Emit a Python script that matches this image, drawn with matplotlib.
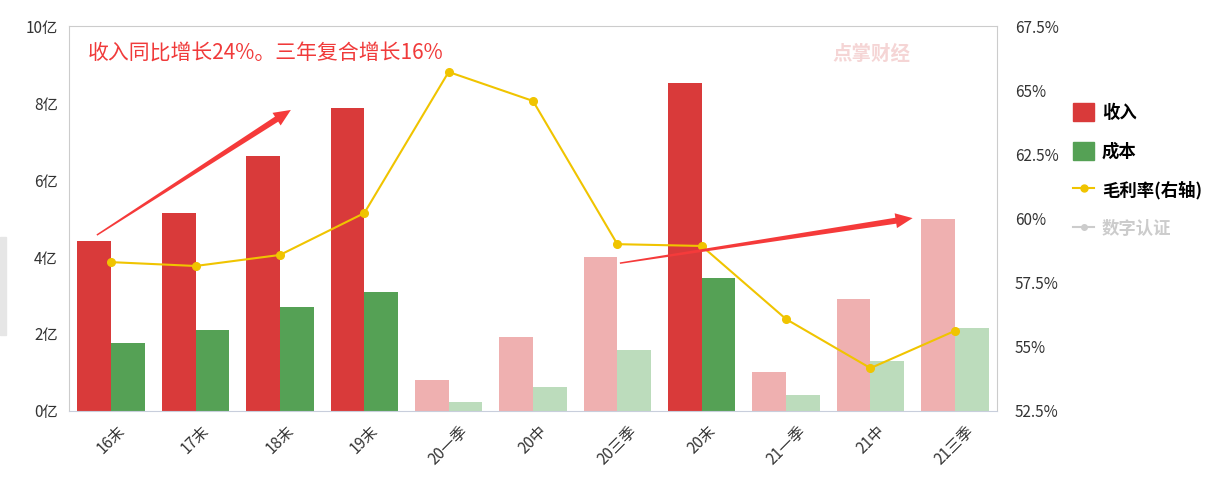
import matplotlib
matplotlib.use('Agg')
import matplotlib.pyplot as plt
import numpy as np
from matplotlib.patches import Patch, Polygon
from matplotlib.lines import Line2D
from matplotlib.transforms import IdentityTransform

plt.rcParams['font.family'] = ['Noto Sans CJK SC', 'DejaVu Sans']

categories = ['16末', '17末', '18末', '19末', '20一季', '20中', '20三季', '20末', '21一季', '21中', '21三季']
revenue = [4.42, 5.14, 6.62, 7.87, 0.81, 1.92, 4.00, 8.52, 1.01, 2.91, 4.99]
cost = [1.77, 2.10, 2.70, 3.09, 0.23, 0.62, 1.58, 3.45, 0.42, 1.30, 2.16]
margin = [58.30, 58.15, 58.58, 60.21, 65.71, 64.58, 59.00, 58.93, 56.08, 54.17, 55.62]
is_annual = [True, True, True, True, False, False, False, True, False, False, False]

left_ticks = [0, 2, 4, 6, 8, 10]
right_ticks = [52.5, 55, 57.5, 60, 62.5, 65, 67.5]

red, red_l = '#D93A3A', '#EFB0B0'
green, green_l = '#55A155', '#BCDCBC'
gold = '#F0C400'

fig = plt.figure(figsize=(12.17, 4.88), dpi=100)
ax = fig.add_axes([0.0567, 0.1578, 0.7625, 0.7889])

x = np.arange(len(categories))
w = 0.40
ax.bar(x - w/2, revenue, w, color=[red if a else red_l for a in is_annual], zorder=2)
ax.bar(x + w/2, cost, w, color=[green if a else green_l for a in is_annual], zorder=2)
ax.set_xlim(-0.5, len(categories) - 0.5)
ax.set_ylim(0, 10)
ax.set_yticks(left_ticks)
ax.set_yticklabels([f'{t}亿' for t in left_ticks], fontsize=11, color='#333333')
ax.set_xticks(x)
ax.set_xticklabels(categories, rotation=45, fontsize=11, color='#333333',
                   ha='center', va='top')
ax.tick_params(length=0, pad=8)
for s in ['top', 'right', 'left']:
    ax.spines[s].set_color('#CCCCCC')
ax.spines['bottom'].set_color('#C8CEDC')

ax2 = ax.twinx()
ax2.plot(x, margin, color=gold, lw=1.5, marker='o', ms=5.5, zorder=3)
ax2.set_ylim(52.5, 67.5)
ax2.set_yticks(right_ticks)
ax2.set_yticklabels([f'{t:g}%' for t in right_ticks], fontsize=11, color='#333333')
ax2.tick_params(length=0, pad=13)
for s in ax2.spines.values():
    s.set_visible(False)

ax.text(0.02, 0.93, '收入同比增长24%。三年复合增长16%', transform=ax.transAxes,
        color='#F03A3A', fontsize=15, va='center', ha='left')
ax.text(0.865, 0.925, '点掌财经', transform=ax.transAxes, color='#F5D5D5',
        fontsize=14, fontweight='bold', va='center', ha='center')


def tapered_arrow(tail, head, tail_w=1.5, body=6.0, head_w=15.0, head_len=17.0):
    # arrow polygon in display pixels: thin tail, widening body, arrow head
    p0 = ax.transData.transform(tail)
    p1 = ax.transData.transform(head)
    d = p1 - p0
    u = d / np.hypot(*d)
    n = np.array([-u[1], u[0]])
    base = p1 - u * head_len
    pts = [p0 + n * tail_w / 2,
           p0 - n * tail_w / 2,
           base - n * body / 2,
           base - n * head_w / 2,
           p1,
           base + n * head_w / 2,
           base + n * body / 2]
    fig.patches.append(Polygon(pts, closed=True, color='#F53A3A', lw=0,
                               transform=IdentityTransform(), zorder=5))


fig.canvas.draw()
tapered_arrow((-0.17, 4.57), (2.13, 7.82))
tapered_arrow((6.03, 3.84), (9.50, 5.01))

handles = [Patch(color=red), Patch(color=green),
           Line2D([], [], color=gold, marker='o', ms=5),
           Line2D([], [], color='#CCCCCC', marker='o', ms=4)]
labels = ['收入', '成本', '毛利率(右轴)', '数字认证']
leg = fig.legend(handles, labels, loc='upper left', bbox_to_anchor=(0.869, 0.82),
                 frameon=False, handlelength=1.2, handleheight=1.2,
                 labelspacing=1.15, handletextpad=0.45,
                 prop={'weight': 'bold', 'size': 12.5})
for t, c in zip(leg.get_texts(), ['black', 'black', 'black', '#CCCCCC']):
    t.set_color(c)

fig.patches.append(plt.Rectangle((0, (488 - 335) / 488), 6 / 1217, 98 / 488,
                                 transform=fig.transFigure, color='#E6E6E6', zorder=0))

fig.savefig('out.png', dpi=100)
